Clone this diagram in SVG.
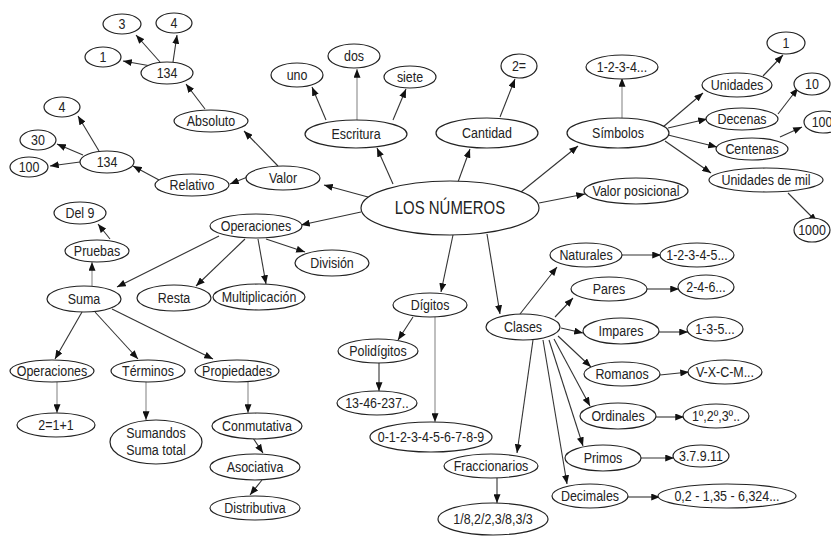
<svg xmlns="http://www.w3.org/2000/svg" width="831" height="536" viewBox="0 0 831 536">
  <style>
    .n ellipse { fill: #ffffff; stroke: #222; stroke-width: 1.2; }
    .n text { font-family: "Liberation Sans", Arial, sans-serif; font-size: 15px; fill: #222; text-anchor: middle;
              transform-box: fill-box; transform-origin: center; transform: scaleX(0.83); }
    .e line { stroke: #333; stroke-width: 1.1; marker-end: url(#ah); }
    .e line.g { stroke: #8a8a8a; }
    #root text { font-size: 18px; }
  </style>
  <defs>
    <marker id="ah" viewBox="0 0 10 8" refX="10" refY="4" markerWidth="9" markerHeight="7" markerUnits="userSpaceOnUse" orient="auto">
      <path d="M0,0 L10,4 L0,8 Z" fill="#111"/>
    </marker>
  </defs>
  <rect width="831" height="536" fill="#ffffff"/>

  <!-- connectors -->
  <g class="e" id="edges">
    <!-- Valor branch -->
    <line x1="160" y1="62" x2="136" y2="35"/>
    <line x1="173" y1="62" x2="177" y2="35"/>
    <line x1="151" y1="66" x2="123" y2="61"/>
    <line x1="205" y1="109" x2="186" y2="84"/>
    <line x1="278" y1="166" x2="244" y2="131"/>
    <line x1="250" y1="176" x2="230" y2="184"/>
    <line x1="159" y1="180" x2="133" y2="166"/>
    <line x1="99" y1="151" x2="78" y2="116"/>
    <line x1="83" y1="155" x2="57" y2="144"/>
    <line x1="80" y1="162" x2="50" y2="166"/>
    <line x1="368" y1="197" x2="324" y2="185"/>
    <!-- Escritura / Cantidad -->
    <line x1="393" y1="184" x2="377" y2="148"/>
    <line x1="326" y1="120" x2="312" y2="87"/>
    <line class="g" x1="357" y1="120" x2="357" y2="69"/>
    <line x1="393" y1="120" x2="406" y2="89"/>
    <line x1="458" y1="182" x2="470" y2="149"/>
    <line x1="500" y1="117" x2="515" y2="79"/>
    <!-- Símbolos -->
    <line x1="521" y1="192" x2="578" y2="146"/>
    <line class="g" x1="622" y1="118" x2="622" y2="78"/>
    <line x1="663" y1="127" x2="703" y2="93"/>
    <line x1="763" y1="76" x2="783" y2="55"/>
    <line x1="668" y1="128" x2="707" y2="119"/>
    <line x1="778" y1="114" x2="798" y2="88"/>
    <line x1="668" y1="135" x2="717" y2="147"/>
    <line x1="780" y1="137" x2="802" y2="127"/>
    <line x1="665" y1="141" x2="711" y2="173"/>
    <line x1="788" y1="193" x2="817" y2="222"/>
    <line x1="539" y1="203" x2="585" y2="194"/>
    <!-- Operaciones -->
    <line x1="361" y1="212" x2="301" y2="225"/>
    <line x1="266" y1="239" x2="305" y2="252"/>
    <line x1="258" y1="239" x2="266" y2="284"/>
    <line x1="245" y1="239" x2="196" y2="286"/>
    <line x1="219" y1="236" x2="117" y2="287"/>
    <line class="g" x1="92" y1="286" x2="92" y2="262"/>
    <line x1="110" y1="239" x2="98" y2="224"/>
    <line x1="82" y1="312" x2="55" y2="359"/>
    <line x1="95" y1="312" x2="138" y2="359"/>
    <line x1="112" y1="309" x2="213" y2="359"/>
    <line class="g" x1="57" y1="382" x2="57" y2="413"/>
    <line class="g" x1="146" y1="382" x2="146" y2="420"/>
    <line class="g" x1="248" y1="382" x2="248" y2="413"/>
    <line x1="253" y1="438" x2="263" y2="453"/>
    <line x1="262" y1="480" x2="250" y2="495"/>
    <!-- Dígitos -->
    <line x1="453" y1="235" x2="441" y2="292"/>
    <line x1="413" y1="317" x2="398" y2="340"/>
    <line class="g" x1="435" y1="317" x2="435" y2="422"/>
    <line x1="379" y1="363" x2="379" y2="391"/>
    <!-- Clases -->
    <line x1="487" y1="234" x2="500" y2="314"/>
    <line x1="533" y1="340" x2="517" y2="453"/>
    <line x1="497" y1="478" x2="497" y2="503"/>
    <line x1="520" y1="314" x2="557" y2="267"/>
    <line x1="555" y1="317" x2="573" y2="298"/>
    <line x1="561" y1="328" x2="583" y2="333"/>
    <line x1="558" y1="336" x2="591" y2="367"/>
    <line x1="554" y1="339" x2="590" y2="406"/>
    <line x1="549" y1="340" x2="583" y2="446"/>
    <line x1="543" y1="340" x2="567" y2="484"/>
    <line x1="622" y1="255" x2="661" y2="255"/>
    <line x1="647" y1="289" x2="679" y2="289"/>
    <line x1="659" y1="332" x2="688" y2="332"/>
    <line x1="660" y1="375" x2="689" y2="372"/>
    <line x1="656" y1="417" x2="684" y2="417"/>
    <line x1="641" y1="458" x2="674" y2="458"/>
    <line x1="628" y1="497" x2="660" y2="497"/>
  </g>

  <!-- nodes -->
  <g class="n" id="root"><ellipse cx="450" cy="208" rx="89" ry="27"/><text x="450" y="214">LOS NÚMEROS</text></g>

  <g class="n" id="valor"><ellipse cx="283" cy="178" rx="37" ry="12"/><text x="283" y="183">Valor</text></g>
  <g class="n" id="absoluto"><ellipse cx="211" cy="121" rx="37" ry="11"/><text x="211" y="126">Absoluto</text></g>
  <g class="n" id="abs-134"><ellipse cx="167" cy="73" rx="26" ry="11"/><text x="167" y="78">134</text></g>
  <g class="n" id="abs-3"><ellipse cx="122" cy="24" rx="19" ry="10"/><text x="122" y="29">3</text></g>
  <g class="n" id="abs-4"><ellipse cx="174" cy="23" rx="18" ry="10"/><text x="174" y="28">4</text></g>
  <g class="n" id="abs-1"><ellipse cx="103" cy="57" rx="18" ry="10"/><text x="103" y="62">1</text></g>
  <g class="n" id="relativo"><ellipse cx="192" cy="185" rx="37" ry="11"/><text x="192" y="190">Relativo</text></g>
  <g class="n" id="rel-134"><ellipse cx="107" cy="162" rx="27" ry="11"/><text x="107" y="167">134</text></g>
  <g class="n" id="rel-4"><ellipse cx="62" cy="107" rx="18" ry="10"/><text x="62" y="112">4</text></g>
  <g class="n" id="rel-30"><ellipse cx="38" cy="140" rx="18" ry="10"/><text x="38" y="145">30</text></g>
  <g class="n" id="rel-100"><ellipse cx="29" cy="167" rx="19" ry="10"/><text x="29" y="172">100</text></g>

  <g class="n" id="escritura"><ellipse cx="356" cy="134" rx="51" ry="14"/><text x="356" y="139">Escritura</text></g>
  <g class="n" id="uno"><ellipse cx="297" cy="75" rx="26" ry="12"/><text x="297" y="80">uno</text></g>
  <g class="n" id="dos"><ellipse cx="354" cy="56" rx="26" ry="12"/><text x="354" y="61">dos</text></g>
  <g class="n" id="siete"><ellipse cx="410" cy="77" rx="26" ry="11"/><text x="410" y="82">siete</text></g>

  <g class="n" id="cantidad"><ellipse cx="487" cy="133" rx="51" ry="15"/><text x="487" y="138">Cantidad</text></g>
  <g class="n" id="dos-igual"><ellipse cx="519" cy="66" rx="18" ry="12"/><text x="519" y="71">2=</text></g>

  <g class="n" id="simbolos"><ellipse cx="618" cy="133" rx="51" ry="15"/><text x="618" y="138">Símbolos</text></g>
  <g class="n" id="sim-serie"><ellipse cx="622" cy="67" rx="36" ry="12"/><text x="622" y="72">1-2-3-4...</text></g>
  <g class="n" id="unidades"><ellipse cx="737" cy="85" rx="35" ry="12"/><text x="737" y="90">Unidades</text></g>
  <g class="n" id="uni-1"><ellipse cx="786" cy="43" rx="19" ry="11"/><text x="786" y="48">1</text></g>
  <g class="n" id="decenas"><ellipse cx="742" cy="119" rx="36" ry="11"/><text x="742" y="124">Decenas</text></g>
  <g class="n" id="dec-10"><ellipse cx="812" cy="84" rx="18" ry="11"/><text x="812" y="89">10</text></g>
  <g class="n" id="centenas"><ellipse cx="752" cy="149" rx="36" ry="11"/><text x="752" y="154">Centenas</text></g>
  <g class="n" id="cen-100"><ellipse cx="823" cy="122" rx="19" ry="11"/><text x="822" y="127">100</text></g>
  <g class="n" id="unidades-mil"><ellipse cx="766" cy="180" rx="57" ry="12"/><text x="766" y="185">Unidades de mil</text></g>
  <g class="n" id="mil-1000"><ellipse cx="812" cy="230" rx="18" ry="12"/><text x="812" y="235">1000</text></g>
  <g class="n" id="valor-posicional"><ellipse cx="636" cy="191" rx="52" ry="13"/><text x="636" y="196">Valor posicional</text></g>

  <g class="n" id="operaciones"><ellipse cx="256" cy="226" rx="46" ry="12"/><text x="256" y="231">Operaciones</text></g>
  <g class="n" id="division"><ellipse cx="332" cy="263" rx="37" ry="13"/><text x="332" y="268">División</text></g>
  <g class="n" id="multiplicacion"><ellipse cx="259" cy="297" rx="46" ry="13"/><text x="259" y="302">Multiplicación</text></g>
  <g class="n" id="resta"><ellipse cx="174" cy="298" rx="37" ry="13"/><text x="174" y="303">Resta</text></g>
  <g class="n" id="suma"><ellipse cx="84" cy="299" rx="37" ry="13"/><text x="84" y="304">Suma</text></g>
  <g class="n" id="pruebas"><ellipse cx="97" cy="251" rx="32" ry="11"/><text x="97" y="256">Pruebas</text></g>
  <g class="n" id="del9"><ellipse cx="80" cy="213" rx="26" ry="11"/><text x="80" y="218">Del 9</text></g>
  <g class="n" id="suma-operaciones"><ellipse cx="52" cy="371" rx="42" ry="11"/><text x="52" y="376">Operaciones</text></g>
  <g class="n" id="suma-ejemplo"><ellipse cx="56" cy="425" rx="39" ry="12"/><text x="56" y="430">2=1+1</text></g>
  <g class="n" id="terminos"><ellipse cx="148" cy="371" rx="37" ry="11"/><text x="148" y="376">Términos</text></g>
  <g class="n" id="sumandos"><ellipse cx="156" cy="442" rx="46" ry="22"/><text x="156" y="438">Sumandos</text><text x="156" y="455">Suma total</text></g>
  <g class="n" id="propiedades"><ellipse cx="237" cy="371" rx="42" ry="11"/><text x="237" y="376">Propiedades</text></g>
  <g class="n" id="conmutativa"><ellipse cx="257" cy="426" rx="45" ry="13"/><text x="257" y="431">Conmutativa</text></g>
  <g class="n" id="asociativa"><ellipse cx="255" cy="467" rx="45" ry="13"/><text x="255" y="472">Asociativa</text></g>
  <g class="n" id="distributiva"><ellipse cx="255" cy="508" rx="45" ry="12"/><text x="255" y="513">Distributiva</text></g>

  <g class="n" id="digitos"><ellipse cx="430" cy="305" rx="37" ry="12"/><text x="430" y="310">Dígitos</text></g>
  <g class="n" id="polidigitos"><ellipse cx="378" cy="351" rx="40" ry="12"/><text x="378" y="356">Polidígitos</text></g>
  <g class="n" id="poli-ejemplo"><ellipse cx="377" cy="403" rx="40" ry="12"/><text x="377" y="408">13-46-237..</text></g>
  <g class="n" id="cifras"><ellipse cx="431" cy="437" rx="61" ry="15"/><text x="431" y="442">0-1-2-3-4-5-6-7-8-9</text></g>

  <g class="n" id="clases"><ellipse cx="523" cy="327" rx="37" ry="13"/><text x="523" y="332">Clases</text></g>
  <g class="n" id="fraccionarios"><ellipse cx="491" cy="466" rx="47" ry="12"/><text x="491" y="471">Fraccionarios</text></g>
  <g class="n" id="frac-ejemplo"><ellipse cx="493" cy="519" rx="55" ry="16"/><text x="493" y="524">1/8,2/2,3/8,3/3</text></g>
  <g class="n" id="naturales"><ellipse cx="586" cy="255" rx="36" ry="12"/><text x="586" y="260">Naturales</text></g>
  <g class="n" id="nat-ejemplo"><ellipse cx="697" cy="255" rx="37" ry="12"/><text x="697" y="260">1-2-3-4-5...</text></g>
  <g class="n" id="pares"><ellipse cx="609" cy="289" rx="38" ry="12"/><text x="609" y="294">Pares</text></g>
  <g class="n" id="par-ejemplo"><ellipse cx="706" cy="287" rx="28" ry="12"/><text x="706" y="292">2-4-6...</text></g>
  <g class="n" id="impares"><ellipse cx="621" cy="331" rx="38" ry="13"/><text x="621" y="336">Impares</text></g>
  <g class="n" id="impar-ejemplo"><ellipse cx="715" cy="329" rx="28" ry="12"/><text x="715" y="334">1-3-5...</text></g>
  <g class="n" id="romanos"><ellipse cx="622" cy="374" rx="38" ry="12"/><text x="622" y="379">Romanos</text></g>
  <g class="n" id="rom-ejemplo"><ellipse cx="725" cy="372" rx="37" ry="12"/><text x="725" y="377">V-X-C-M...</text></g>
  <g class="n" id="ordinales"><ellipse cx="618" cy="416" rx="38" ry="13"/><text x="618" y="421">Ordinales</text></g>
  <g class="n" id="ord-ejemplo"><ellipse cx="716" cy="416" rx="33" ry="12"/><text x="716" y="421">1º,2º,3º..</text></g>
  <g class="n" id="primos"><ellipse cx="603" cy="458" rx="38" ry="13"/><text x="603" y="463">Primos</text></g>
  <g class="n" id="primo-ejemplo"><ellipse cx="701" cy="456" rx="28" ry="11"/><text x="701" y="461">3.7.9.11</text></g>
  <g class="n" id="decimales"><ellipse cx="590" cy="496" rx="38" ry="12"/><text x="590" y="501">Decimales</text></g>
  <g class="n" id="dec-ejemplo"><ellipse cx="727" cy="496" rx="69" ry="12"/><text x="727" y="501">0,2 - 1,35 - 6,324...</text></g>
</svg>
